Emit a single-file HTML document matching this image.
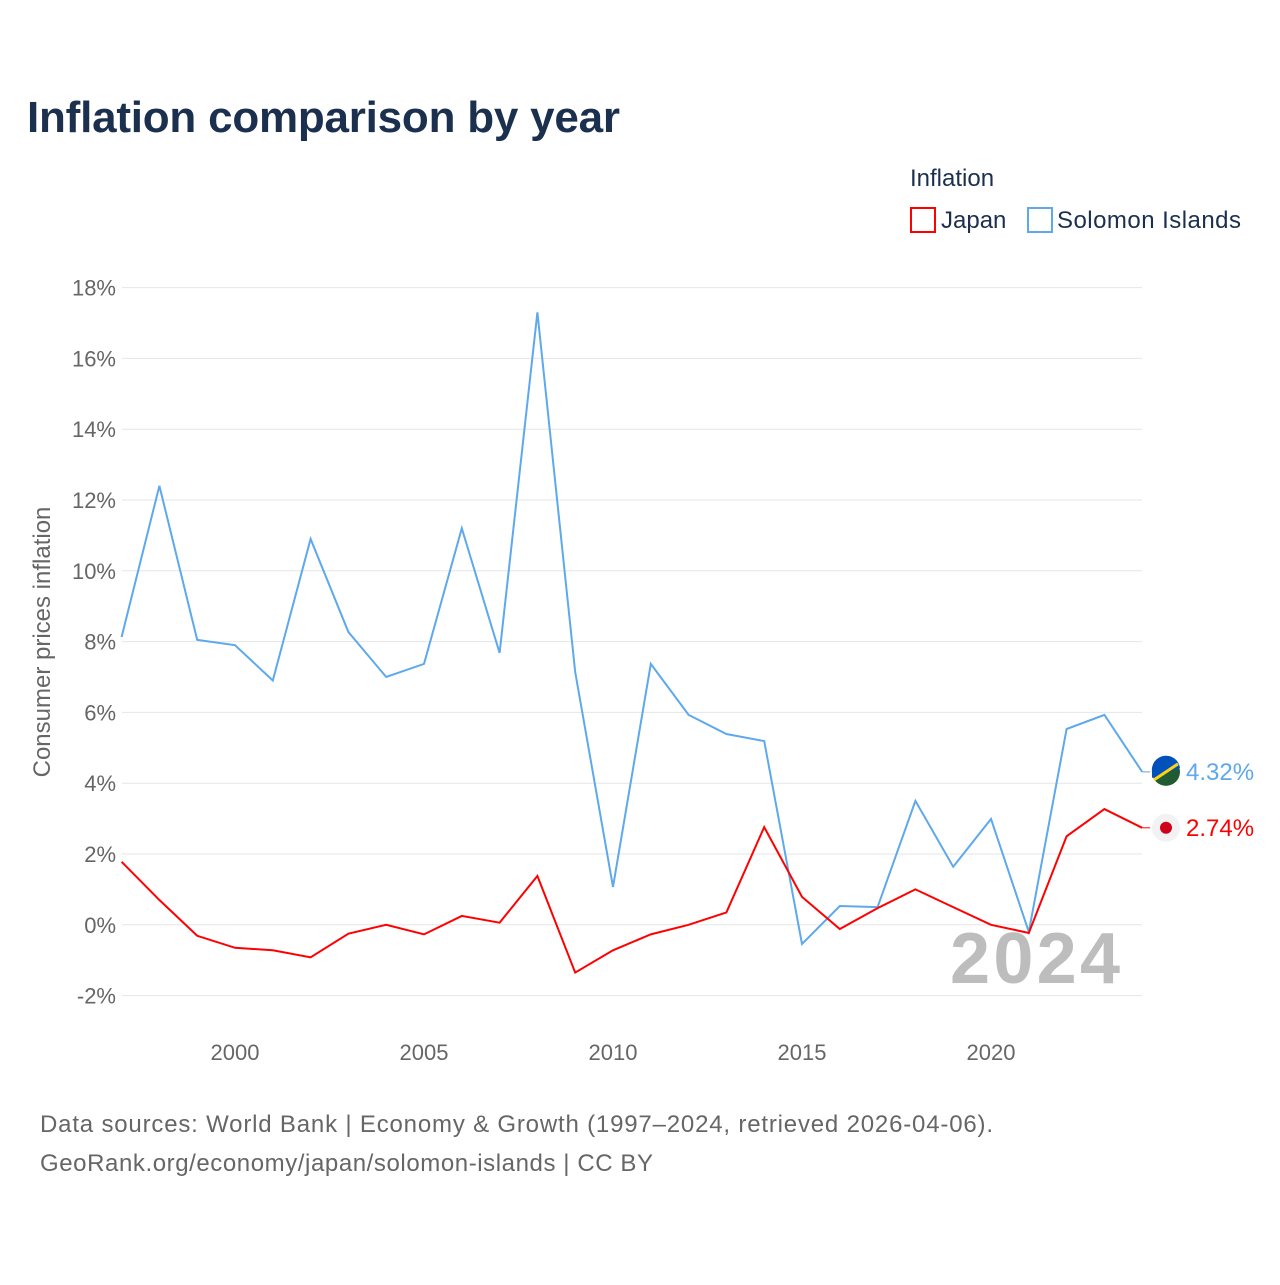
<!DOCTYPE html>
<html><head><meta charset="utf-8">
<style>
body{margin:0;background:#fff;width:1280px;height:1280px;overflow:hidden;font-family:"Liberation Sans",sans-serif;}
</style></head>
<body>
<svg id="chart" width="1280" height="1280" xmlns="http://www.w3.org/2000/svg">
<text x="27" y="132" font-size="44" font-weight="bold" fill="#1b2f4e" textLength="593">Inflation comparison by year</text>
<text x="910" y="186" font-size="24" fill="#1b2f4e">Inflation</text>
<g>
<rect x="911" y="208" width="24" height="24" fill="none" stroke="#f00" stroke-width="2"/>
<text x="941" y="228" font-size="24" fill="#1b2f4e">Japan</text></g>
<g>
<rect x="1028" y="208" width="24" height="24" fill="none" stroke="#5ea8ec" stroke-width="2"/>
<text x="1057" y="228" font-size="24" fill="#1b2f4e" textLength="184">Solomon Islands</text></g>
<g id="grid"></g><g id="axes"></g><g id="series"></g>
<text x="1120" y="983" font-size="72" font-weight="bold" fill="#bdbdbd" text-anchor="end" textLength="170">2024</text>
<text transform="translate(50,642) rotate(-90)" font-size="24" fill="#666" text-anchor="middle">Consumer prices inflation</text>
<text x="40" y="1132" font-size="24" fill="#666" textLength="953">Data sources: World Bank | Economy &amp; Growth (1997–2024, retrieved 2026-04-06).</text>
<text x="40" y="1171" font-size="24" fill="#666" textLength="613">GeoRank.org/economy/japan/solomon-islands | CC BY</text>
</svg>
<script>
const years=[1997,1998,1999,2000,2001,2002,2003,2004,2005,2006,2007,2008,2009,2010,2011,2012,2013,2014,2015,2016,2017,2018,2019,2020,2021,2022,2023,2024];
const solomon=[8.13,12.4,8.05,7.9,6.9,10.9,8.27,7.0,7.37,11.2,7.68,17.3,7.14,1.07,7.37,5.93,5.39,5.19,-0.54,0.53,0.5,3.5,1.64,2.99,-0.2,5.53,5.93,4.32];
const japan=[1.78,0.7,-0.31,-0.65,-0.72,-0.92,-0.25,0,-0.27,0.25,0.06,1.38,-1.35,-0.72,-0.27,0,0.35,2.76,0.79,-0.12,0.47,1.0,0.5,0,-0.23,2.5,3.27,2.74];
const yTicks=[-2,0,2,4,6,8,10,12,14,16,18];
const xTicks=[2000,2005,2010,2015,2020];
const X=v=>121.6+(v-1997)*37.8, Y=v=>924.8-v*35.4;
const NS='http://www.w3.org/2000/svg';
function mk(t,a,p){const e=document.createElementNS(NS,t);for(const k in a)e.setAttribute(k,a[k]);p.appendChild(e);return e;}
const grid=document.getElementById('grid'),axes=document.getElementById('axes'),ser=document.getElementById('series');
yTicks.forEach(t=>{const l=mk('line',{x1:122,x2:1142,y1:Y(t),y2:Y(t),stroke:'#e6e6e6','stroke-width':1},grid);


const tx=mk('text',{x:116,y:Y(t)+8,'font-size':22,fill:'#666','text-anchor':'end'},axes);tx.textContent=t+'%';

});
xTicks.forEach(t=>{const tx=mk('text',{x:X(t),y:1060,'font-size':22,fill:'#666','text-anchor':'middle'},axes);tx.textContent=t;

});
function line(vals,col,name){const p=mk('polyline',{points:vals.map((v,i)=>X(years[i])+','+Y(v)).join(' '),fill:'none',stroke:col,'stroke-width':2},ser);


const last=vals[vals.length-1];mk('line',{x1:X(2024),x2:X(2024)+8,y1:Y(last),y2:Y(last),stroke:col,'stroke-width':1},ser);return last;}
const sl=line(solomon,'#5ea8ec','line-solomon-islands');
const jl=line(japan,'#f00','line-japan');
let g=mk('g',{},ser);
mk('circle',{cx:1166,cy:Y(sl),r:14,fill:'#215b33'},g);
mk('path',{d:`M1152 ${Y(sl)} A14 14 0 0 1 1180 ${Y(sl)-4} L1152 ${Y(sl)+6}Z`,fill:'#0051ba'},g);
mk('line',{x1:1154,y1:Y(sl)+8,x2:1178,y2:Y(sl)-8,stroke:'#fcd116','stroke-width':3},g);
let t=mk('text',{x:1186,y:Y(sl)+8,'font-size':24,fill:'#5ea8ec'},ser);t.textContent=sl.toFixed(2)+'%';

g=mk('g',{},ser);
mk('circle',{cx:1166,cy:Y(jl),r:14,fill:'#f2f2f2'},g);
mk('circle',{cx:1166,cy:Y(jl),r:6,fill:'#d0021b'},g);
t=mk('text',{x:1186,y:Y(jl)+8,'font-size':24,fill:'#f00'},ser);t.textContent=jl.toFixed(2)+'%';

</script>
</body></html>
